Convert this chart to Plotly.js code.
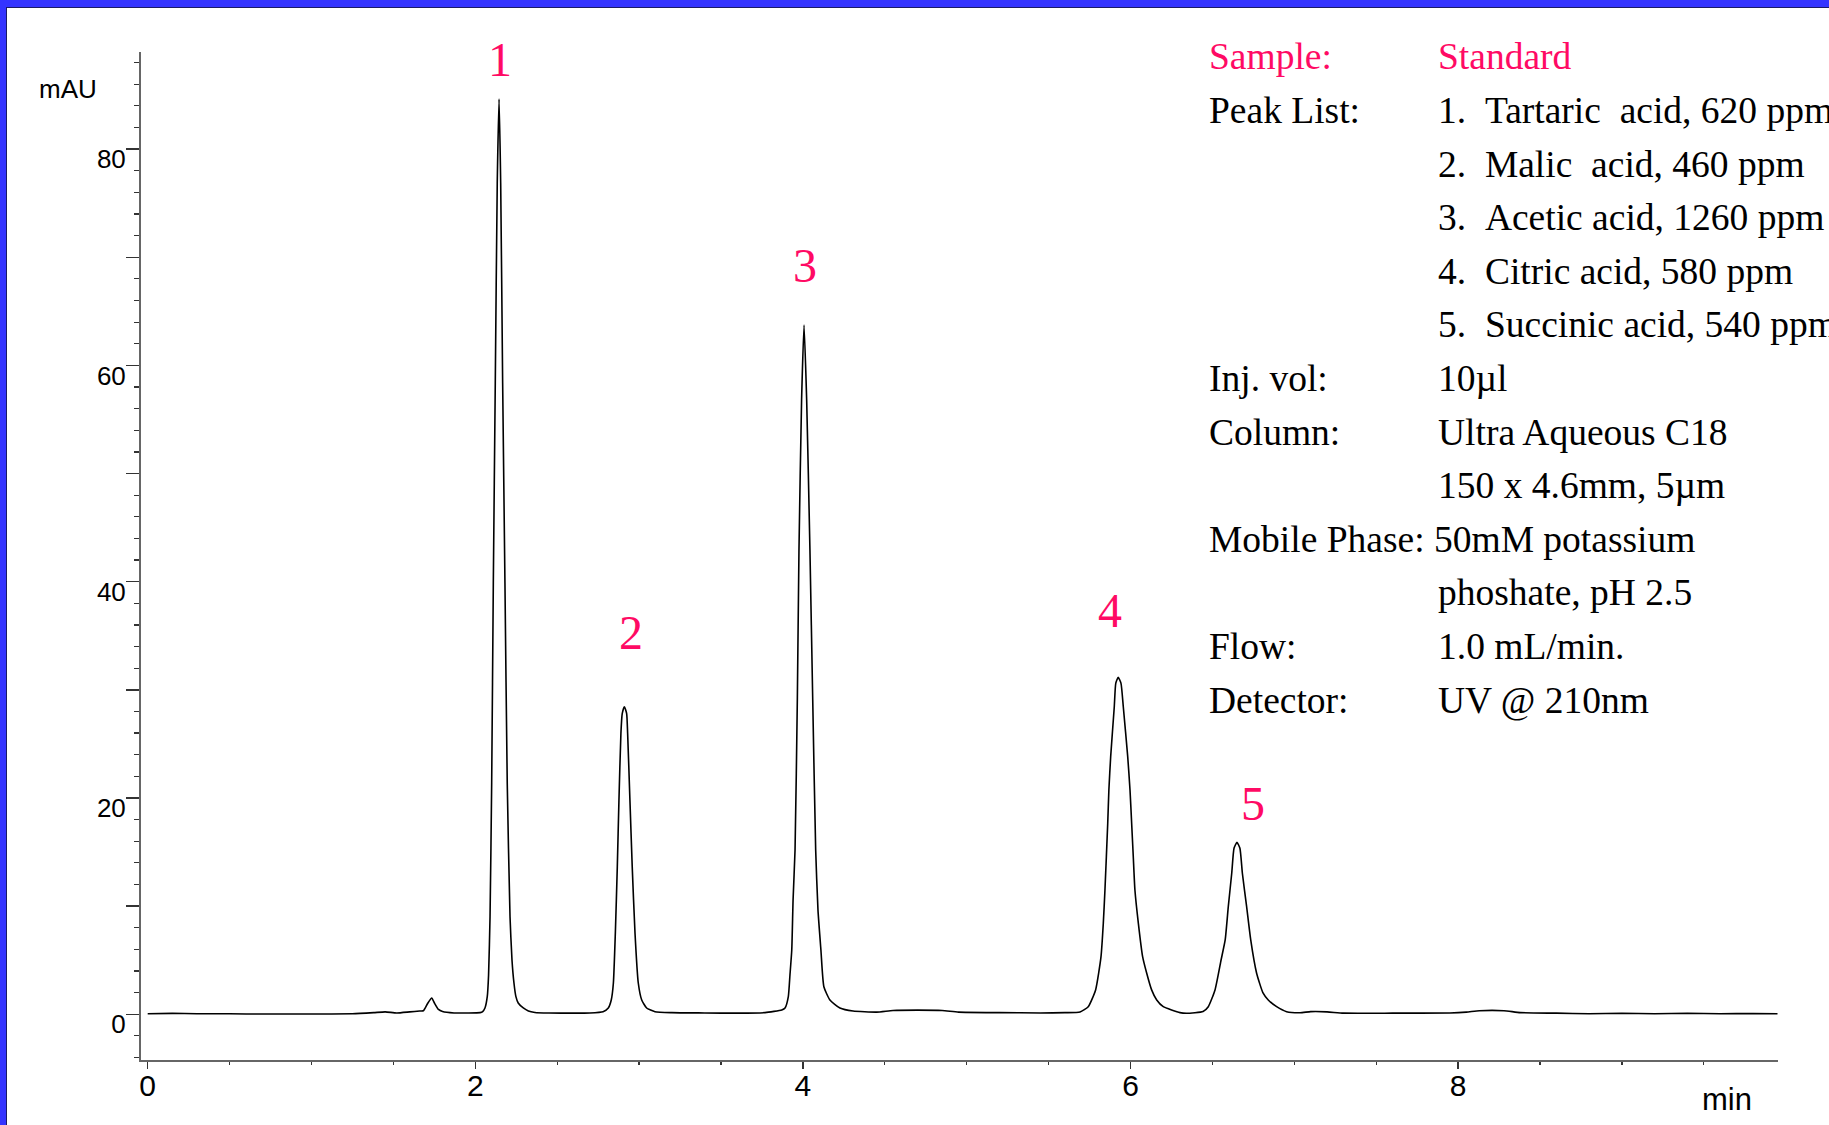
<!DOCTYPE html>
<html>
<head>
<meta charset="utf-8">
<script src="https://cdn.plot.ly/plotly-3.0.1.min.js"></script>
<style>html,body{margin:0;padding:0;background:#fff;}#chart{width:1829px;height:1125px;}</style>
</head>
<body>
<div id="chart"></div>
<script>
// ---------- DATA ----------
const time_min = [
  0.00, 0.15, 0.30, 0.50, 0.70, 1.00, 1.25, 1.38, 1.45, 1.52, 1.60, 1.66,
  1.683, 1.709, 1.734, 1.752, 1.775, 1.80, 1.87, 1.95, 2.029,
  2.045, 2.059, 2.073, 2.081, 2.090, 2.100, 2.110, 2.122, 2.134, 2.145,
  2.155, 2.167, 2.181, 2.195, 2.212, 2.224, 2.236, 2.248, 2.262, 2.293, 2.324, 2.364,
  2.45, 2.60, 2.70,
  2.780, 2.812, 2.830, 2.843, 2.855, 2.867, 2.877, 2.889, 2.897, 2.910,
  2.924, 2.930, 2.944, 2.958, 2.975, 2.995, 3.016, 3.046, 3.097,
  3.20, 3.40, 3.60,
  3.769, 3.871, 3.891, 3.911, 3.921, 3.932, 3.940, 3.952, 3.966, 3.976, 3.992, 4.007,
  4.023, 4.043, 4.060, 4.078, 4.092, 4.110, 4.128, 4.165, 4.226, 4.306,
  4.45, 4.55, 4.70, 4.85, 4.95, 5.20, 5.45, 5.60,
  5.692, 5.742, 5.787, 5.820, 5.834, 5.844, 5.861, 5.868, 5.879, 5.901, 5.910, 5.925,
  5.942, 5.956, 5.983, 5.997, 6.007, 6.017, 6.027, 6.048, 6.074, 6.099, 6.129, 6.160, 6.200, 6.302,
  6.343, 6.443, 6.475, 6.516, 6.553, 6.578, 6.597, 6.618, 6.632, 6.650,
  6.668, 6.683, 6.709, 6.734, 6.770, 6.809, 6.841, 6.892, 6.953, 7.035,
  7.10, 7.20, 7.30, 7.60, 7.95, 8.05, 8.13, 8.28, 8.38, 8.60, 8.80,
  9.00, 9.20, 9.40, 9.60, 9.80, 9.95
];
const signal_mAU = [
  0.05, 0.08, 0.05, 0.04, 0.02, 0.02, 0.05, 0.15, 0.22, 0.12, 0.22, 0.30,
  0.32, 1.00, 1.50, 1.00, 0.45, 0.25, 0.12, 0.12, 0.15,
  0.25, 0.58, 1.63, 3.63, 9.02, 21.39, 39.88, 58.37, 76.84, 84.63,
  76.84, 58.37, 39.88, 21.39, 9.02, 5.02, 2.89, 1.63, 1.04, 0.58, 0.30, 0.17,
  0.12, 0.10, 0.12,
  0.24, 0.58, 1.32, 2.89, 7.52, 13.65, 19.80, 25.98, 27.80, 28.44,
  27.80, 25.98, 19.80, 13.65, 7.52, 2.89, 1.32, 0.58, 0.24,
  0.15, 0.12, 0.10,
  0.15, 0.40, 0.58, 1.63, 3.63, 5.94, 10.57, 15.19, 29.06, 42.93, 56.80, 63.74,
  56.80, 42.93, 29.06, 15.19, 9.65, 5.94, 2.55, 1.32, 0.58, 0.30,
  0.20, 0.35, 0.38, 0.35, 0.20, 0.15, 0.12, 0.15,
  0.21, 0.70, 2.25, 5.33, 8.41, 11.49, 17.66, 20.74, 23.82, 28.44, 30.60, 31.16,
  30.60, 28.44, 23.82, 20.74, 17.66, 14.57, 11.49, 8.41, 5.33, 3.79, 2.25, 1.32, 0.70, 0.15,
  0.09, 0.26, 0.70, 2.25, 5.02, 6.87, 9.95, 13.04, 15.35, 15.90,
  15.35, 13.04, 9.95, 6.87, 3.79, 1.97, 1.32, 0.70, 0.24, 0.14,
  0.24, 0.22, 0.10, 0.10, 0.12, 0.20, 0.33, 0.33, 0.15, 0.10, 0.05,
  0.08, 0.05, 0.08, 0.05, 0.06, 0.05
];
const peak_numbers = ['1', '2', '3', '4', '5'];
const y_tick_values = [0, 10, 20, 30, 40, 50, 60, 70, 80];
const y_tick_labels = ['0', '', '20', '', '40', '', '60', '', '80'];
const x_tick_values = [0, 2, 4, 6, 8];
const x_tick_labels = ['0', '2', '4', '6', '8'];
const info_keys = ['Sample:', 'Peak List:', '', '', '', '', 'Inj. vol:', 'Column:', '', 'Mobile Phase: 50mM potassium', '', 'Flow:', 'Detector:'];
const info_values = ['Standard', '1.\u00A0\u00A0Tartaric\u00A0\u00A0acid, 620 ppm', '2.\u00A0\u00A0Malic\u00A0\u00A0acid, 460 ppm',
  '3.\u00A0\u00A0Acetic acid, 1260 ppm', '4.\u00A0\u00A0Citric acid, 580 ppm', '5.\u00A0\u00A0Succinic acid, 540 ppm',
  '10\u00B5l', 'Ultra Aqueous C18', '150 x 4.6mm, 5\u00B5m', '', 'phoshate, pH 2.5', '1.0 mL/min.', 'UV @ 210nm'];
const y_title = 'mAU';
const x_title = 'min';

// ---------- LAYOUT ----------
const FIG_W = 1829, FIG_H = 1125;
const M = {l: 141, r: 51, t: 52, b: 65};
const PW = FIG_W - M.l - M.r, PH = FIG_H - M.t - M.b;
const px = p => (p - M.l) / PW;
const py = p => (FIG_H - M.b - p) / PH;

const SERIF = 'Liberation Serif, Times New Roman, serif';
const SANS = 'Liberation Sans, Arial, sans-serif';
const PINK = '#FF0A64';

// peak-label centres in pixels
const peakLabelPos = [[500, 60], [631, 632], [805, 265], [1110, 610], [1253, 803]];

const annotations = [];
peak_numbers.forEach((t, i) => {
  annotations.push({xref: 'paper', yref: 'paper', x: px(peakLabelPos[i][0]), y: py(peakLabelPos[i][1]),
    text: t, showarrow: false, xanchor: 'center', yanchor: 'middle', borderpad: 0,
    font: {family: SERIF, size: 48, color: PINK}});
});
const infoFont = 37.5;
info_keys.forEach((k, i) => {
  const base = 68.5 + 53.6 * i;
  const yc = base - 0.3375 * infoFont + 1;
  const col = i === 0 ? PINK : '#000';
  if (k) annotations.push({xref: 'paper', yref: 'paper', x: px(1208), y: py(yc), text: k, showarrow: false,
    xanchor: 'left', yanchor: 'middle', borderpad: 0, font: {family: SERIF, size: infoFont, color: col}});
  if (info_values[i]) annotations.push({xref: 'paper', yref: 'paper', x: px(1437), y: py(yc), text: info_values[i], showarrow: false,
    xanchor: 'left', yanchor: 'middle', borderpad: 0, font: {family: SERIF, size: infoFont, color: col}});
});
annotations.push({xref: 'paper', yref: 'paper', x: px(68), y: py(89), text: y_title, showarrow: false,
  xanchor: 'center', yanchor: 'middle', borderpad: 0, font: {family: SANS, size: 26, color: '#000'}});
annotations.push({xref: 'paper', yref: 'paper', x: px(1727), y: py(1099), text: x_title, showarrow: false,
  xanchor: 'center', yanchor: 'middle', borderpad: 0, font: {family: SANS, size: 31, color: '#000'}});

const BLUE = '#3434FF';
const shapes = [
  {type: 'rect', xref: 'paper', yref: 'paper', x0: px(0), x1: px(FIG_W), y0: py(7), y1: py(0), fillcolor: BLUE, line: {width: 0}, layer: 'above'},
  {type: 'rect', xref: 'paper', yref: 'paper', x0: px(0), x1: px(6), y0: py(FIG_H), y1: py(0), fillcolor: BLUE, line: {width: 0}, layer: 'above'},
  {type: 'line', xref: 'paper', yref: 'paper', x0: px(6), x1: px(FIG_W), y0: py(7.5), y1: py(7.5), line: {color: '#1a1a66', width: 1}},
  {type: 'line', xref: 'paper', yref: 'paper', x0: px(6.5), x1: px(6.5), y0: py(FIG_H), y1: py(7.5), line: {color: '#1a1a66', width: 1}}
];

const trace = {x: time_min, y: signal_mAU, type: 'scatter', mode: 'lines',
  line: {color: '#000', width: 1.6, shape: 'spline', smoothing: 0.5}, hoverinfo: 'skip', showlegend: false};

const layout = {
  width: FIG_W, height: FIG_H,
  margin: M,
  paper_bgcolor: '#fff', plot_bgcolor: '#fff',
  showlegend: false,
  xaxis: {
    range: [-0.0409, 9.953], showgrid: false, zeroline: false,
    showline: true, linecolor: '#666', linewidth: 2,
    tickmode: 'array', tickvals: x_tick_values, ticktext: x_tick_labels,
    ticks: 'outside', ticklen: 7, tickwidth: 1.5, tickcolor: '#333',
    ticklabelstandoff: -9,
    minor: {tickmode: 'linear', tick0: 0, dtick: 0.5, ticks: 'outside', ticklen: 3, tickwidth: 1.2, tickcolor: '#333', showgrid: false},
    tickfont: {family: SANS, size: 30, color: '#000'}
  },
  yaxis: {
    range: [-4.23, 88.98], showgrid: false, zeroline: false,
    showline: true, linecolor: '#666', linewidth: 2,
    tickmode: 'array', tickvals: y_tick_values, ticktext: y_tick_labels,
    ticks: 'outside', ticklen: 13, tickwidth: 1.5, tickcolor: '#333',
    ticklabelshift: 10, ticklabelstandoff: -5,
    minor: {tickmode: 'linear', tick0: 0, dtick: 2, ticks: 'outside', ticklen: 5, tickwidth: 1.2, tickcolor: '#333', showgrid: false},
    tickfont: {family: SANS, size: 26, color: '#000'}
  },
  annotations: annotations,
  shapes: shapes
};

Plotly.newPlot('chart', [trace], layout, {displayModeBar: false, staticPlot: true});
</script>
</body>
</html>
